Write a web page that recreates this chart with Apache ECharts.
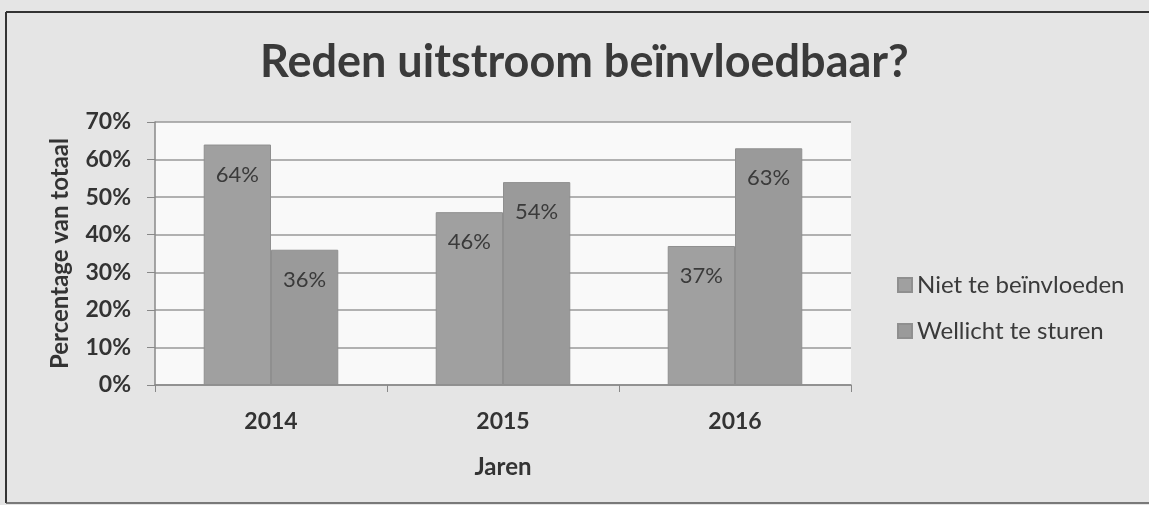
<!DOCTYPE html>
<html><head><meta charset="utf-8">
<script src="https://cdn.jsdelivr.net/npm/echarts@6/dist/echarts.min.js"></script>
<style>html,body{margin:0;padding:0;background:#e5e5e5;}#c{width:1149px;height:505px;}</style>
</head><body><div id="c"></div>
<script>
const categories = ['2014', '2015', '2016'];
const nietTeBeinvloeden = [64, 46, 37];
const wellichtTeSturen = [36, 54, 63];
const seriesNames = ['Niet te beïnvloeden', 'Wellicht te sturen'];
const yTicks = [0, 10, 20, 30, 40, 50, 60, 70];

const chart = echarts.init(document.getElementById('c'));
const font = 'Lato, "Open Sans", sans-serif';
const labelCfg = {show: true, position: 'insideTop', distance: 19, color: '#3a3a3a', fontSize: 22, fontFamily: font, formatter: p => p.value + '%'};
chart.setOption({
  backgroundColor: '#e5e5e5',
  animation: false,
  title: {text: 'Reden uitstroom beïnvloedbaar?', left: 255, top: 35,
    textStyle: {fontSize: 45, fontWeight: 'bold', color: '#3a3a3a', fontFamily: font}},
  legend: {orient: 'vertical', left: 892, top: 268, itemWidth: 14, itemHeight: 14, itemGap: 22,
    icon: 'rect', textStyle: {fontSize: 24, color: '#3a3a3a', fontFamily: font}},
  grid: {left: 155, right: 298, top: 122, bottom: 120, show: true, backgroundColor: '#f9f9f9', borderWidth: 0},
  xAxis: {type: 'category', data: categories, name: 'Jaren', nameLocation: 'middle', nameGap: 70,
    nameTextStyle: {fontSize: 24, fontWeight: 'bold', color: '#333', fontFamily: font},
    axisLine: {lineStyle: {color: '#888', width: 1.5}},
    axisTick: {show: true, length: 7, lineStyle: {color: '#888'}},
    axisLabel: {fontSize: 23, fontWeight: 'bold', color: '#333', margin: 25, fontFamily: font}},
  yAxis: {type: 'value', min: 0, max: 70, interval: 10, name: 'Percentage van totaal', nameLocation: 'middle', nameGap: 83,
    nameTextStyle: {fontSize: 24, fontWeight: 'bold', color: '#333', fontFamily: font},
    axisLine: {show: true, lineStyle: {color: '#888', width: 1.5}},
    axisTick: {show: true, length: 8, lineStyle: {color: '#888'}},
    splitLine: {lineStyle: {color: '#999', width: 1.5}},
    axisLabel: {fontSize: 23, fontWeight: 'bold', color: '#333', margin: 24, fontFamily: font,
      formatter: v => yTicks.includes(v) ? v + '%' : ''}},
  series: [
    {name: seriesNames[0], type: 'bar', data: nietTeBeinvloeden, barGap: '0%', barCategoryGap: '42%',
      itemStyle: {color: '#a0a0a0', borderColor: '#8f8f8f', borderWidth: 1}, label: labelCfg},
    {name: seriesNames[1], type: 'bar', data: wellichtTeSturen,
      itemStyle: {color: '#9a9a9a', borderColor: '#8f8f8f', borderWidth: 1}, label: labelCfg}
  ],
  graphic: [
    {type: 'line', shape: {x1: 6, y1: 12, x2: 1149, y2: 12}, style: {stroke: '#333', lineWidth: 2}},
    {type: 'line', shape: {x1: 6, y1: 12, x2: 6, y2: 503}, style: {stroke: '#333', lineWidth: 2}},
    {type: 'line', shape: {x1: 6, y1: 503, x2: 1149, y2: 503}, style: {stroke: '#555', lineWidth: 1.5}}
  ]
});
</script></body></html>
